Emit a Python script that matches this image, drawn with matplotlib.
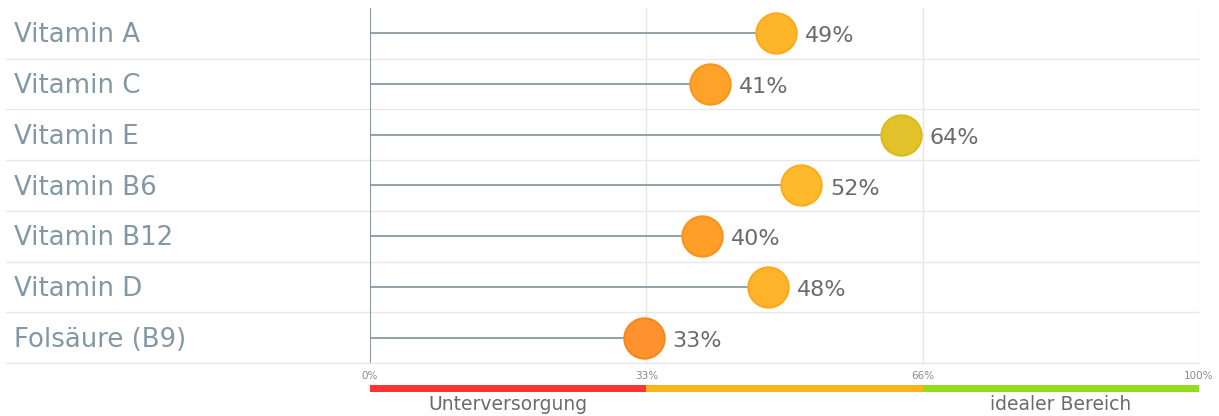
import numpy as np
import matplotlib
matplotlib.use("Agg")
import matplotlib.pyplot as plt
import matplotlib.transforms as mtransforms

# data
vitamins = ["Vitamin A", "Vitamin C", "Vitamin E", "Vitamin B6",
            "Vitamin B12", "Vitamin D", "Folsäure (B9)"]
values = [49, 41, 64, 52, 40, 48, 33]
tick_pos = [0, 100 / 3, 200 / 3, 100]
tick_labels = ["0%", "33%", "66%", "100%"]
zones = [0, 100 / 3, 200 / 3, 100]
zone_labels = ["Unterversorgung", "idealer Bereich"]

# styles
dot_colors = ["#ffb52a", "#ffa22a", "#e1c22a", "#ffb92a", "#ff9f2a", "#ffb32a", "#ff922e"]
dot_edges = ["#fbaa1c", "#fb951c", "#dbba20", "#fbae1c", "#fb921c", "#fba81c", "#fb861c"]
zone_colors = ["#ff3333", "#ffb31a", "#96dc1e"]
label_col = "#8398a5"
plt.rcParams["font.family"] = ["DejaVu Sans"]

W, H = 1219, 416
fig = plt.figure(figsize=(W / 100, H / 100), dpi=100)
ax = fig.add_axes([370 / W, (H - 363) / H, 829 / W, 355 / H])
ax.set_xlim(0, 100)
ax.set_ylim(len(vitamins), 0)
ax.axis("off")

# vertical grid
for x in tick_pos[1:]:
    ax.plot([x, x], [0, len(vitamins)], color="#e6e6e6", lw=1, zorder=0)
ax.plot([0, 0], [0, len(vitamins)], color="#7d8c97", lw=1.3, zorder=2)

# row separators, extending into label area
trans = mtransforms.blended_transform_factory(fig.transFigure, ax.transData)
for i in range(len(vitamins)):
    ax.plot([6 / W, 1199 / W], [i + 1, i + 1], color="#e8e8e8", lw=1,
            transform=trans, clip_on=False, zorder=0)

for i, (name, v) in enumerate(zip(vitamins, values)):
    y = i + 0.5
    ax.text(14 / W, y + 0.04, name, transform=trans, fontsize=18.7, color=label_col,
            va="center", ha="left")
    ax.plot([0, v], [y, y], color="#8a9aa5", lw=1.3, zorder=1)
    ax.plot(v, y, "o", ms=29, mfc=dot_colors[i], mec=dot_edges[i], mew=1.5,
            zorder=3, clip_on=False)
    ax.annotate(f"{v}%", (v, y + 0.06), xytext=(21, 0), textcoords="offset points",
                fontsize=16, color="#6b6b6b", va="center", ha="left")

for x, t in zip(tick_pos, tick_labels):
    ax.text(x, -0.037, t, transform=ax.get_xaxis_transform(), fontsize=7.5,
            color="#8a8a8a", ha="center", va="center")

# zone bar
bax = fig.add_axes([370 / W, (H - 392) / H, 829 / W, 7 / H])
bax.set_xlim(0, 100)
bax.set_ylim(0, 1)
bax.axis("off")
for j in range(3):
    bax.barh(0.5, zones[j + 1] - zones[j], left=zones[j], height=1,
             color=zone_colors[j])
fig.text(508 / W, 1 - 404 / H, zone_labels[0], fontsize=13.5, color="#6b6b6b",
         ha="center", va="center")
fig.text(1061 / W, 1 - 404 / H, zone_labels[1], fontsize=13.5, color="#6b6b6b",
         ha="center", va="center")

fig.savefig("out.png", dpi=100)
